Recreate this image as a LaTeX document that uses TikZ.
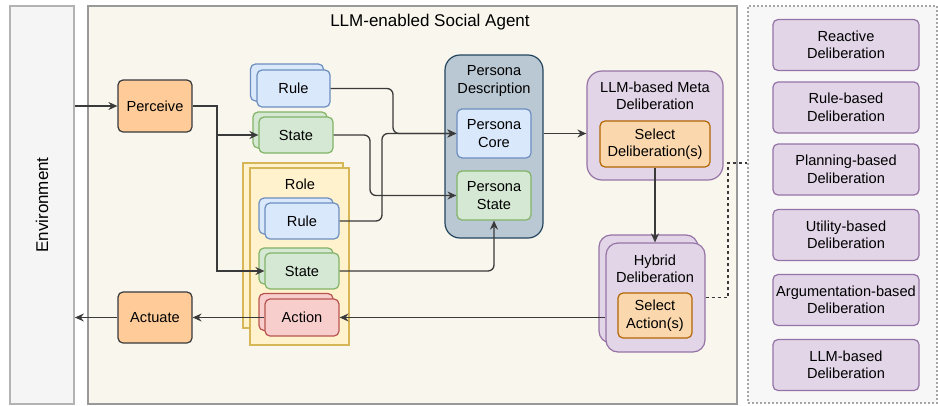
\documentclass[tikz,border=0pt]{standalone}
\usepackage{fontspec}
\setmainfont{Liberation Sans}
\usetikzlibrary{arrows.meta}
\definecolor{envfill}{HTML}{F5F5F5}
\definecolor{envline}{HTML}{B3B3B3}
\definecolor{agfill}{HTML}{F9F7ED}
\definecolor{agline}{HTML}{999999}
\definecolor{rbfill}{HTML}{F7F7F7}
\definecolor{rbline}{HTML}{A6A6A6}
\definecolor{purfill}{HTML}{E1D5E7}
\definecolor{purline}{HTML}{9673A6}
\definecolor{orfill}{HTML}{FFCC99}
\definecolor{orline}{HTML}{36393D}
\definecolor{blfill}{HTML}{DAE8FC}
\definecolor{blline}{HTML}{6C8EBF}
\definecolor{grfill}{HTML}{D5E8D4}
\definecolor{grline}{HTML}{82B366}
\definecolor{yefill}{HTML}{FFF2CC}
\definecolor{yeline}{HTML}{D6B656}
\definecolor{refill}{HTML}{F8CECC}
\definecolor{reline}{HTML}{B85450}
\definecolor{pdfill}{HTML}{BAC8D3}
\definecolor{pdline}{HTML}{23445D}
\definecolor{sofill}{HTML}{FAD7AC}
\definecolor{soline}{HTML}{B46504}
\definecolor{connc}{HTML}{3A3A3A}
\begin{document}
\begin{tikzpicture}[x=1pt,y=-1pt,
  txt/.style={font=\fontsize{14.6}{17.5}\selectfont, align=center},
  bigtxt/.style={font=\fontsize{17}{20}\selectfont, align=center},
  box/.style={draw, rounded corners=5pt, line width=1.2pt, inner sep=0pt, txt},
  plain/.style={draw, line width=1.8pt, inner sep=0pt},
  bluebox/.style={box, fill=blfill, draw=blline},
  greenbox/.style={box, fill=grfill, draw=grline},
  redbox/.style={box, fill=refill, draw=reline},
  orbox/.style={box, fill=orfill, draw=orline},
  selbox/.style={box, fill=sofill, draw=soline},
  purbox/.style={box, fill=purfill, draw=purline},
  conn/.style={draw=connc, line width=1.3pt, rounded corners=6pt, -{Stealth[length=9pt,width=8pt,inset=3pt]}},
  sharpconn/.style={conn, sharp corners},
  dashconn/.style={draw=connc, line width=1.1pt, dash pattern=on 3pt off 3pt},
]
\useasboundingbox (0,0) rectangle (938,405);

% backgrounds
\node[plain, fill=envfill, draw=envline, minimum width=64, minimum height=398] (env) at (42,205) {};
\node[bigtxt, rotate=90] (envlabel) at (42,205) {Environment};
\node[plain, fill=agfill, draw=agline, minimum width=649, minimum height=398] (agent) at (412.5,205) {};
\node[bigtxt] (agtitle) at (430,22) {LLM-enabled Social Agent};
\node[draw=rbline, fill=rbfill, line width=1.1pt, dash pattern=on 2pt off 2pt, inner sep=0pt, minimum width=189, minimum height=397] (rbox) at (842.5,204.5) {};

% deliberation catalogue
\node[purbox, minimum width=146, minimum height=51] (d1) at (846,45) {Reactive\\Deliberation};
\node[purbox, minimum width=146, minimum height=51] (d2) at (846,107.5) {Rule-based\\Deliberation};
\node[purbox, minimum width=146, minimum height=51] (d3) at (846,169.5) {Planning-based\\Deliberation};
\node[purbox, minimum width=146, minimum height=51] (d4) at (846,235) {Utility-based\\Deliberation};
\node[purbox, minimum width=146, minimum height=51] (d5) at (846,300) {Argumentation-based\\Deliberation};
\node[purbox, minimum width=146, minimum height=51] (d6) at (846,365) {LLM-based\\Deliberation};

% perceive / actuate
\node[orbox, minimum width=74, minimum height=52] (perc) at (155,106) {Perceive};
\node[orbox, minimum width=74, minimum height=51] (act) at (155,317.5) {Actuate};

% top rule / state (stacked)
\node[bluebox, minimum width=73, minimum height=37] (rule1b) at (287,82.5) {};
\node[bluebox, minimum width=73, minimum height=37] (rule1) at (293.5,88.5) {Rule};
\node[greenbox, minimum width=74, minimum height=36] (state1b) at (290,130) {};
\node[greenbox, minimum width=74, minimum height=36] (state1) at (296,135) {State};

% role container
\node[draw=yeline, fill=yefill, line width=1.2pt, inner sep=0pt, minimum width=100, minimum height=165] (roleb) at (293,245.5) {};
\node[draw=yeline, fill=yefill, line width=1.2pt, inner sep=0pt, minimum width=99, minimum height=177] (role) at (299.5,256.5) {};
\node[txt] (roletitle) at (300,184) {Role};
\node[bluebox, minimum width=74, minimum height=36] (rruleb) at (296,216) {};
\node[bluebox, minimum width=74, minimum height=36] (rrule) at (302,221) {Rule};
\node[greenbox, minimum width=74, minimum height=36] (rstateb) at (296,266) {};
\node[greenbox, minimum width=74, minimum height=36] (rstate) at (302,271) {State};
\node[redbox, minimum width=74, minimum height=37] (ractb) at (296,312) {};
\node[redbox, minimum width=74, minimum height=37] (ract) at (302,317.5) {Action};

% persona description
\node[box, rounded corners=15pt, fill=pdfill, draw=pdline, minimum width=98, minimum height=183] (pdesc) at (494,146.5) {};
\node[txt] (pdtitle) at (494,81) {Persona\\Description};
\node[bluebox, minimum width=74, minimum height=49] (pcore) at (494,133.5) {Persona\\Core};
\node[greenbox, minimum width=74, minimum height=49] (pstate) at (494,195.5) {Persona\\State};

% meta deliberation
\node[purbox, rounded corners=15pt, minimum width=136, minimum height=109] (meta) at (655,125.5) {};
\node[txt] (metatitle) at (655,96) {LLM-based Meta\\Deliberation};
\node[selbox, minimum width=110, minimum height=46] (seld) at (655,144) {Select\\Deliberation(s)};

% hybrid deliberation
\node[purbox, rounded corners=12pt, minimum width=99, minimum height=108] (hybb) at (648.5,289) {};
\node[purbox, rounded corners=12pt, minimum width=99, minimum height=109] (hyb) at (655.5,297.5) {};
\node[txt] (hybtitle) at (655,269) {Hybrid\\Deliberation};
\node[selbox, minimum width=74, minimum height=45] (sela) at (655,315.5) {Select\\Action(s)};

% helper coordinates
\coordinate (pj) at (217,0);
\coordinate (xa) at (393,0);
\coordinate (xb) at (370,0);
\coordinate (xc) at (382,0);
\coordinate (dj) at (728,163);

% connectors
\draw[conn] (env.east |- perc.west) -- (perc.west);
\draw[sharpconn] (perc.east) -| (pj |- state1.west) -- (state1.west);
\draw[sharpconn] (perc.east) -| (pj |- rstate.west) -- (rstate.west);
\draw[conn] (rule1.east) -| (xa |- pcore.west) -- (pcore.west);
\draw[conn] (rrule.east) -| (xc |- pcore.west) -- (pcore.west);
\draw[conn] (state1.east) -| (xb |- pstate.west) -- (pstate.west);
\draw[conn] (rstate.east) -| (pstate.south);
\draw[conn] (pdesc.east |- pcore) -- (meta.west |- pcore);
\draw[conn] (seld.south) -- (seld.south |- hyb.north);
\draw[conn] (hyb.west |- ract.east) -- (ract.east);
\draw[conn] (ract.west) -- (act.east);
\draw[conn] (act.west) -- (env.east |- act.west);
\draw[dashconn] (hyb.east) -| (dj) -- (rbox.west |- dj);
\end{tikzpicture}
\end{document}
